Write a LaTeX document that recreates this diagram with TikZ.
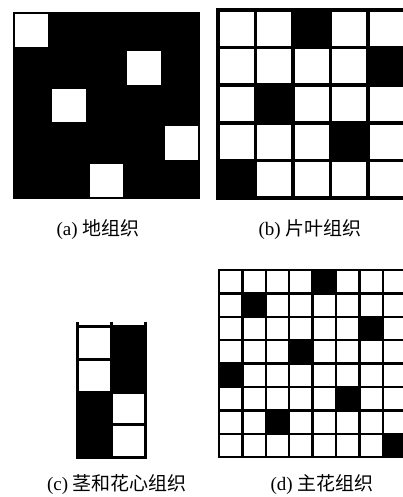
\documentclass[tikz,border=0pt]{standalone}
\usepackage{fontspec}
\setmainfont{Liberation Serif}
\newfontfamily\cjk{Noto Sans CJK SC}
\usetikzlibrary{positioning}

\tikzset{
  gridline/.style={line width=#1, line cap=rect},
  caption/.style={font=\fontsize{19}{22}\selectfont, inner sep=0pt}
}

\begin{document}
\begin{tikzpicture}[x=1pt, y=-1pt]
  \useasboundingbox (0,0) rectangle (403,497);
  \clip (0,0) rectangle (403,497);

  % (a) ground weave: black field, five white cells
  \fill[black] (13,12) rectangle (200,199);
  \foreach \c/\r in {0/0, 3/1, 1/2, 4/3, 2/4}
    \fill[white] ({13+37.4*\c+2},{12+37.4*\r+2}) rectangle +(33.4,33.4);

  % (b) leaf weave, 5 x 5 satin
  \foreach \c/\r in {2/0, 4/1, 1/2, 3/3, 0/4}
    \fill[black] ({218+37.5*\c},{10+37.6*\r}) rectangle +(37.5,37.6);
  \foreach \i in {0,...,5} {
    \draw[gridline=3.5pt] ({218+37.5*\i},10) -- ({218+37.5*\i},198);
    \draw[gridline=3.5pt] (218,{10+37.6*\i}) -- (405.5,{10+37.6*\i});
  }

  % (c) stem and flower heart, 2 x 4
  \fill[black] (111,326) rectangle (145,392);
  \fill[black] (77,392) rectangle (111,457);
  \foreach \x in {77,111,145}
    \draw[gridline=3pt] (\x,323) -- (\x,457);
  \foreach \y in {326,359,392,424.5,457}
    \draw[gridline=3pt] (77,\y) -- (145,\y);

  % (d) main flower, 8 x 8 satin
  \foreach \c/\r in {4/0, 1/1, 6/2, 3/3, 0/4, 5/5, 2/6, 7/7}
    \fill[black] ({219+23.4*\c},{270+23.4*\r}) rectangle +(23.4,23.4);
  \foreach \i in {0,...,8} {
    \draw[gridline=2.5pt] ({219+23.4*\i},270) -- ({219+23.4*\i},457.2);
    \draw[gridline=2.5pt] (219,{270+23.4*\i}) -- (406.2,{270+23.4*\i});
  }

  % Captions
  \node[caption] (capa) at (98,230) {(a) {\cjk 地组织}};
  \node[caption] (capb) at (310,230) {(b) {\cjk 片叶组织}};
  \node[caption] (capc) at (117,485) {(c) {\cjk 茎和花心组织}};
  \node[caption] (capd) at (322,485) {(d) {\cjk 主花组织}};

\end{tikzpicture}
\end{document}
